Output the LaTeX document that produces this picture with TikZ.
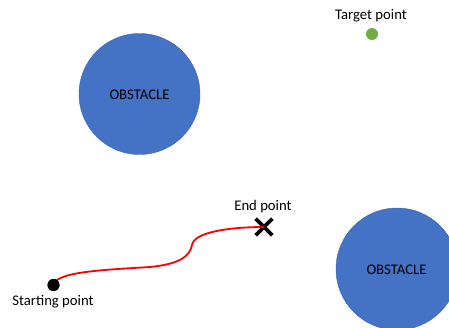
\documentclass[tikz,border=0pt]{standalone}
\usepackage{fontspec}
\setmainfont{Carlito}
\usetikzlibrary{shapes.misc}
\definecolor{obstblue}{HTML}{4472C4}
\definecolor{targetgreen}{HTML}{70AD47}
\definecolor{pathred}{HTML}{FF0000}
\tikzset{
  obstacle/.style={circle, fill=obstblue, draw=obstblue!90!black, line width=0.4pt, inner sep=0pt},
  obstlabel/.style={anchor=base, inner sep=0pt, text=black},
  dot/.style={circle, inner sep=0pt, minimum size=12pt},
  caption/.style={anchor=base, inner sep=0pt, text=black},
  endmark/.style={cross out, draw=black, line width=3.6pt, inner sep=0pt, minimum size=13pt},
  route/.style={draw=pathred, line width=1.8pt, line cap=round}
}
\begin{document}
\begin{tikzpicture}[x=1pt, y=-1pt, font=\fontsize{14.7}{17}\selectfont]
  \useasboundingbox (0,0) rectangle (449,327);
  \begin{scope}
    \clip (0,0) rectangle (449,327);
    % obstacles
    \node[obstacle, minimum size=121pt] (obsA) at (139.5,94) {};
    \node[obstacle, minimum size=122pt] (obsB) at (397,269) {};
  \end{scope}
  \node[obstlabel] (obsAtext) at (139.5,99) {OBSTACLE};
  \node[obstlabel] (obsBtext) at (396.5,274) {OBSTACLE};

  % target
  \node[dot, fill=targetgreen] (target) at (372,34) {};
  \node[caption] (targettext) at (371,19.5) {Target point};

  % start
  \node[dot, fill=black] (start) at (53.5,285) {};
  \node[caption] (starttext) at (53,305) {Starting point};

  % end point
  \node[endmark] (end) at (264,227) {};
  \node[caption] (endtext) at (263,210) {End point};

  % travelled route
  \coordinate (mid1) at (150,267);
  \coordinate (mid2) at (192,245);
  \path[route] (start.center) .. controls (56,272) and (100,270) .. (mid1)
     .. controls (180,264) and (190,256) .. (mid2)
     .. controls (194,232) and (230,227) .. (end.center);
  \node[dot, fill=black] at (start) {};
\end{tikzpicture}
\end{document}
